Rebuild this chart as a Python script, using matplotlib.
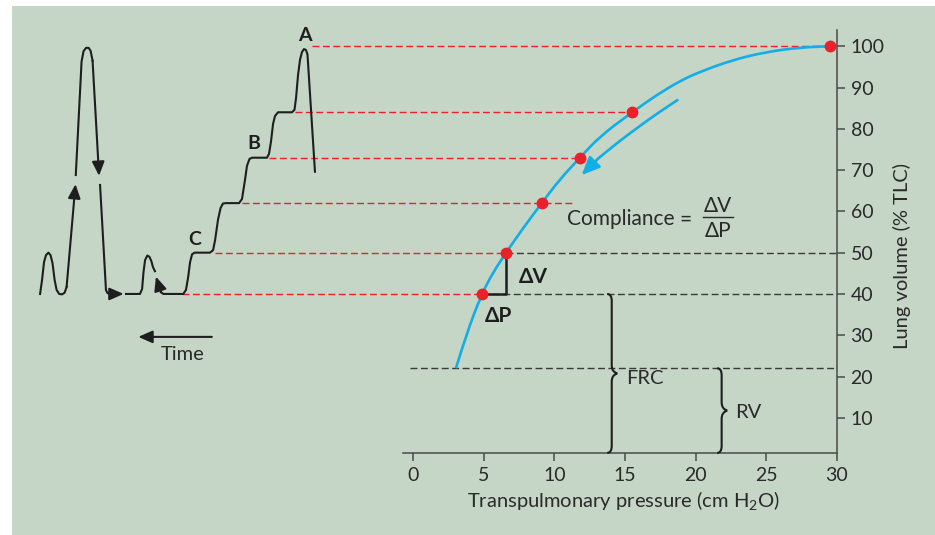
import matplotlib
matplotlib.use("Agg")
import matplotlib.pyplot as plt
from matplotlib.path import Path
from matplotlib.patches import PathPatch

plt.rcParams['font.family'] = ['Lato', 'DejaVu Sans']
plt.rcParams['mathtext.fontset'] = 'custom'
plt.rcParams['mathtext.rm'] = 'Lato'

PANEL = '#c5d5c6'
BLUE = '#12aee6'
RED = '#e8212b'
INK = '#1e1e1e'
GRID = '#3a3a3a'
TXT = '#2a2a2a'

##
## pressure-volume curve: transpulmonary pressure (cm H2O) vs lung volume (% TLC)
##
curve_p = [3.02, 3.78, 4.85, 5.67, 6.57, 7.79, 9.10, 10.39, 11.81, 13.23,
           15.50, 17.25, 18.90, 20.31, 22.65, 24.99, 27.40, 29.53]
curve_v = [22.0, 30.5, 40.0, 45.3, 50.0, 56.0, 62.0, 67.8, 73.0, 78.2,
           84.0, 88.2, 91.6, 93.8, 96.7, 98.6, 99.7, 100.0]

# deflation arrow next to the curve
deflate_p = [18.78, 17.40, 16.06, 14.60, 13.10]
deflate_v = [87.1, 84.0, 80.7, 77.0, 72.8]
deflate_tip = (11.93, 68.8)

# red points, one per volume step
point_p = [29.53, 15.50, 11.81, 9.10, 6.57, 4.85]
point_v = [100, 84, 73, 62, 50, 40]
guide_start = [-7.2, -8.4, -10.25, -12.16, -14.05, -16.4]
guide_end = [29.53, 15.50, 11.81, 11.46, 6.57, 4.85]

frc_level = 40
rv_level = 22
axis_floor = 1.5

xticks = [0, 5, 10, 15, 20, 25, 30]
yticks = [10, 20, 30, 40, 50, 60, 70, 80, 90, 100]

##
## spirometer trace (time runs right to left), drawn in pieces around the arrows
##
trace1_t = [-26.45, -26.31, -26.17, -26.03, -25.86, -25.71, -25.57, -25.42,
            -25.28, -25.10, -24.89, -24.71, -24.57]
trace1_v = [40, 43.4, 47.7, 49.4, 50, 49.4, 47.5, 43.4, 41, 40, 39.9, 40.3, 41.7]
arrow1_tip = (-23.94, 66.6)

trace2_t = [-23.92, -23.51, -23.37, -23.19, -23.01, -22.87, -22.73]
trace2_v = [68.8, 96.3, 98.8, 99.6, 99.6, 98.9, 96.5]
arrow2_tip = (-22.27, 68.6)

trace3_t = [-22.20, -21.78, -21.67, -21.49]
trace3_v = [66.4, 40.9, 40.2, 40.0]
arrow3_tip = (-20.53, 40.0)

trace4_t = [-20.36, -19.37, -19.22, -19.12, -19.01, -18.85, -18.70, -18.56, -18.45, -18.31]
trace4_v = [40, 40, 41.2, 45.3, 48.2, 49.3, 49.0, 47.9, 46.5, 45.5]
arrow4_tip = (-18.24, 44.2)

trace5_t = [-17.88, -17.71, -16.30, -16.11, -15.96, -15.82, -15.68, -15.50,
            -14.41, -14.19, -14.05, -13.84, -13.66, -13.49, -13.27,
            -12.35, -12.14, -11.93, -11.79, -11.61, -11.43,
            -10.37, -10.23, -10.09, -9.94, -9.80, -9.59,
            -8.60, -8.42, -8.31, -8.17, -8.03, -7.89, -7.75, -7.61, -7.50, -6.97]
trace5_v = [40.4, 40, 40, 41, 44, 47.7, 49.6, 50,
            50, 50.6, 53, 58, 60.8, 61.9, 62,
            62, 63, 67.6, 71, 72.7, 73,
            73, 73.9, 76.8, 81.2, 83.1, 84,
            84, 84.6, 87.5, 93, 96.7, 98.6, 99.3, 99.1, 98, 69.6]

step_labels = ['A', 'B', 'C']
step_label_t = [-7.67, -11.29, -15.47]
step_label_v = [102.7, 76.5, 53.2]


def smooth_line(ax, xs, ys, **kw):
    # quadratic bezier through the midpoints, points act as control points
    verts = [(xs[0], ys[0])]
    codes = [Path.MOVETO]
    for i in range(1, len(xs) - 1):
        verts += [(xs[i], ys[i]), ((xs[i] + xs[i + 1]) / 2.0, (ys[i] + ys[i + 1]) / 2.0)]
        codes += [Path.CURVE3, Path.CURVE3]
    verts.append((xs[-1], ys[-1]))
    codes.append(Path.LINETO)
    ax.add_patch(PathPatch(Path(verts, codes), fill=False, **kw))


def brace(ax, x, bottom, top, hook=0.32, tip=0.39):
    mid = (bottom + top) / 2.0
    verts = [(x - hook, top), (x, top), (x, top - 1.7),
             (x, mid + 2.0),
             (x, mid + 0.4), (x + tip, mid),
             (x, mid - 0.4), (x, mid - 2.0),
             (x, bottom + 1.7),
             (x, bottom), (x - hook, bottom)]
    codes = [Path.MOVETO, Path.CURVE3, Path.CURVE3,
             Path.LINETO,
             Path.CURVE3, Path.CURVE3,
             Path.CURVE3, Path.CURVE3,
             Path.LINETO,
             Path.CURVE3, Path.CURVE3]
    ax.add_patch(PathPatch(Path(verts, codes), fill=False, ec=INK, lw=1.5, zorder=3))


def arrow(ax, tail, tip, color=INK, lw=1.5, scale=17):
    ax.annotate('', xy=tip, xytext=tail,
                arrowprops=dict(arrowstyle='-|>,head_length=0.5,head_width=0.22', color=color, lw=lw,
                                mutation_scale=scale, shrinkA=0, shrinkB=0))


fig = plt.figure(figsize=(9.35, 5.35), dpi=100, facecolor='white')
ax = fig.add_axes([12 / 935, 0, 923 / 935, 529 / 535])
ax.set_facecolor(PANEL)
ax.set_xlim(-28.44, 36.97)
ax.set_ylim(-18.38, 109.74)

## axes drawn as spines at x=30 and y=floor
for s in ['left', 'top']:
    ax.spines[s].set_visible(False)
ax.spines['right'].set_position(('data', 30))
ax.spines['bottom'].set_position(('data', axis_floor))
ax.spines['right'].set_bounds(axis_floor, 104.0)
ax.spines['bottom'].set_bounds(-0.7, 30)
for s in ['right', 'bottom']:
    ax.spines[s].set_color('#4a4a4a')
    ax.spines[s].set_linewidth(1.1)
ax.yaxis.tick_right()
ax.set_xticks(xticks)
ax.set_yticks(yticks)
ax.tick_params(direction='out', length=6, width=1.1, color='#4a4a4a',
               labelsize=14, labelcolor=TXT, pad=4)

ax.set_xlabel(r'Transpulmonary pressure (cm H$_\mathregular{2}$O)', fontsize=14.5, color=TXT)
ax.xaxis.set_label_coords(0.662, 0.063)
ax.xaxis.label.set_va('center')
ax.yaxis.set_label_position('right')
ax.set_ylabel('Lung volume (% TLC)', fontsize=14.5, color=TXT)
ax.yaxis.set_label_coords(0.964, 0.527)
ax.yaxis.label.set_va('center')

## guide lines from the trace steps to the curve
for x0, x1, v in zip(guide_start, guide_end, point_v):
    ax.plot([x0, x1], [v, v], color=RED, lw=1.0, dashes=(5, 2.5), zorder=1)
ax.plot([point_p[4], 30], [50, 50], color=GRID, lw=1.0, dashes=(5, 2.5), zorder=1)
ax.plot([point_p[5], 30], [frc_level, frc_level], color=GRID, lw=1.0, dashes=(5, 2.5), zorder=1)
ax.plot([-0.24, 30], [rv_level, rv_level], color=GRID, lw=1.0, dashes=(5, 2.5), zorder=1)

## delta P / delta V corner
ax.plot([point_p[5], point_p[4], point_p[4]], [point_v[5], point_v[5], point_v[4]],
        color=INK, lw=1.8, zorder=3)

## compliance curve
smooth_line(ax, curve_p, curve_v, ec=BLUE, lw=1.9, zorder=4)
smooth_line(ax, deflate_p, deflate_v, ec=BLUE, lw=1.9, zorder=4)
arrow(ax, (deflate_p[-1], deflate_v[-1]), deflate_tip, color=BLUE, lw=1.9, scale=22)
ax.plot(point_p, point_v, 'o', color=RED, ms=7.5, zorder=5)

## braces for FRC and RV
brace(ax, 14.06, axis_floor, frc_level)
brace(ax, 21.85, axis_floor, rv_level)

## spirometer trace
ax.plot(trace1_t, trace1_v, color=INK, lw=1.5, zorder=3)
arrow(ax, (trace1_t[-1], trace1_v[-1]), arrow1_tip)
ax.plot(trace2_t, trace2_v, color=INK, lw=1.5, zorder=3)
arrow(ax, (trace2_t[-1], trace2_v[-1]), arrow2_tip)
ax.plot(trace3_t, trace3_v, color=INK, lw=1.5, zorder=3)
arrow(ax, (trace3_t[-1], trace3_v[-1]), arrow3_tip)
ax.plot(trace4_t, trace4_v, color=INK, lw=1.5, zorder=3)
arrow(ax, (trace5_t[0], trace5_v[0]), arrow4_tip)
ax.plot(trace5_t, trace5_v, color=INK, lw=1.5, zorder=3)

arrow(ax, (-14.28, 29.6), (-19.49, 29.6))
ax.text(-16.34, 25.4, 'Time', fontsize=14.5, color=TXT, ha='center', va='center')

for lab, t, v in zip(step_labels, step_label_t, step_label_v):
    ax.text(t, v, lab, fontsize=14, fontweight='bold', color=INK, ha='center', va='center')

## annotations
ax.text(8.50, 44.2, '\u0394V', fontsize=15, fontweight='bold', color=INK, ha='center', va='center')
ax.text(6.02, 34.7, '\u0394P', fontsize=15, fontweight='bold', color=INK, ha='center', va='center')
ax.text(10.87, 58.1, 'Compliance', fontsize=15, color=TXT, ha='left', va='center')
ax.text(19.3, 58.1, '=', fontsize=15, color=TXT, ha='center', va='center')
ax.text(21.59, 61.4, '\u0394V', fontsize=15, color=TXT, ha='center', va='center')
ax.text(21.59, 55.3, '\u0394P', fontsize=15, color=TXT, ha='center', va='center')
ax.plot([20.55, 22.63], [58.6, 58.6], color=TXT, lw=1.0)
ax.text(15.07, 19.6, 'FRC', fontsize=14.5, color=TXT, ha='left', va='center')
ax.text(22.79, 11.2, 'RV', fontsize=14.5, color=TXT, ha='left', va='center')

fig.savefig('out.png', dpi=100, facecolor='white')
